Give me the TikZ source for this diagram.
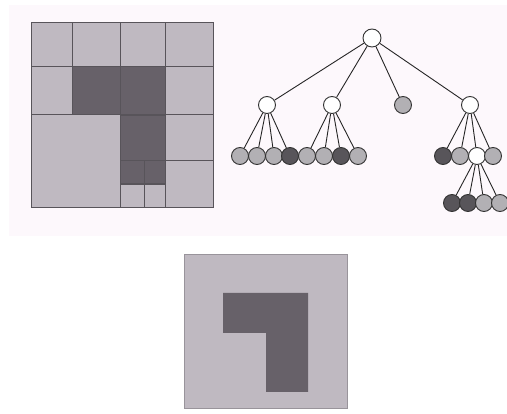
\documentclass[tikz,border=0pt]{standalone}
\usepackage{tikz}
\definecolor{qlight}{RGB}{191,185,193}
\definecolor{qdark}{RGB}{103,97,105}
\definecolor{qline}{RGB}{88,84,90}
\definecolor{tlight}{RGB}{178,176,180}
\definecolor{tdark}{RGB}{88,85,90}
\definecolor{paper}{RGB}{253,248,252}
\tikzset{
  cellline/.style = {qline, line width=1pt},
  edge/.style     = {gray!30!black, line width=0.9pt},
  tnode/.style    = {circle, draw=gray!40!black, line width=0.9pt,
                     inner sep=0pt, minimum size=17pt},
  rootnode/.style = {tnode, minimum size=18pt, fill=white}
}

\begin{document}
\begin{tikzpicture}[x=1pt,y=-1pt]
  \useasboundingbox (0,0) rectangle (507,414);
  \fill[paper] (9,5) rectangle (507,236);
  % quadtree square
  \begin{scope}
    \fill[qlight] (31,23) rectangle (213,208);
    \fill[qdark] (72,67) rectangle (165,115);
    \fill[qdark] (120,115) rectangle (165,184);
    \draw[cellline] (31,23) rectangle (213,208);
    \foreach \x in {72,120,165} { \draw[cellline] (\x,23) -- (\x,115); }
    \foreach \y in {67,115} { \draw[cellline] (31,\y) -- (213,\y); }
    \draw[cellline] (120,115) -- (120,208);
    \draw[cellline] (165,115) -- (165,208);
    \draw[cellline] (120,161) -- (213,161);
    \draw[cellline] (144,161) -- (144,208);
    \draw[cellline, line width=1.6pt] (120,115) -- (165,115);
    \draw[cellline, line width=1.6pt] (120,184) -- (165,184);
  \end{scope}
  % tree
  \node[rootnode] (r) at (372,38) {};
  \foreach \n/\x/\c in {a/267/white, b/332/white, c/403/tlight, d/470/white} {
    \node[tnode, fill=\c] (\n) at (\x,105) {};
    \draw[edge] (r) -- (\n);
  }
  \foreach \p/\n/\x/\c in {a/a1/240/tlight, a/a2/257/tlight, a/a3/274/tlight, a/a4/290/tdark,
                           b/b1/307/tlight, b/b2/324/tlight, b/b3/341/tdark, b/b4/358/tlight,
                           d/d1/443/tdark, d/d2/460/tlight, d/d3/477/white, d/d4/493/tlight} {
    \node[tnode, fill=\c] (\n) at (\x,156) {};
    \draw[edge] (\p) -- (\n);
  }
  \foreach \n/\x/\c in {e1/452/tdark, e2/468/tdark, e3/484/tlight, e4/500/tlight} {
    \node[tnode, fill=\c] (\n) at (\x,203) {};
    \draw[edge] (d3) -- (\n);
  }
  % bottom square
  \begin{scope}
    \fill[qlight] (184,254) rectangle (347,408);
    \draw[qlight!80!black, line width=0.8pt] (184,254) rectangle (347,408);
    \fill[qdark] (223,293) -- (308,293) -- (308,392) -- (266,392) -- (266,333)
      -- (223,333) -- cycle;
  \end{scope}
\end{tikzpicture}
\end{document}
